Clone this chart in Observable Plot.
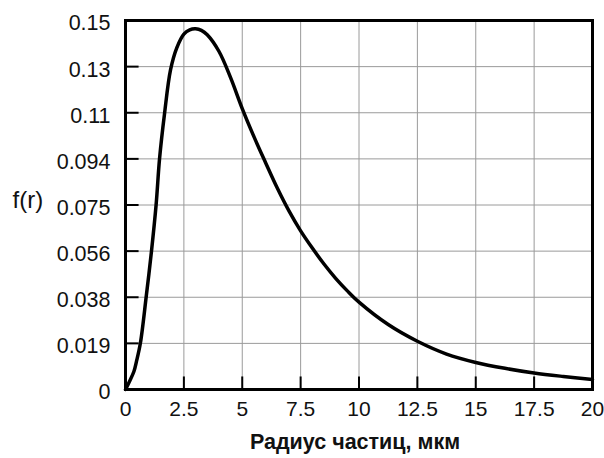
<!DOCTYPE html>
<html>
<head>
<meta charset="utf-8">
<script src="https://cdn.jsdelivr.net/npm/d3@7"></script>
<script src="https://cdn.jsdelivr.net/npm/@observablehq/plot@0.6"></script>
<style>
  html, body { margin: 0; padding: 0; background: #fff; }
  #chart { width: 604px; height: 458px; }
  svg { font-family: "Liberation Sans", Arial, sans-serif; }
</style>
</head>
<body>
<div id="chart"></div>
<script>
// Radius (µm) and distribution density f(r)
const radius = [0, 0.17, 0.36, 0.47, 0.64, 0.89, 1.11, 1.31, 1.46, 1.67, 1.93, 2.2, 2.5, 2.75, 3.0, 3.25, 3.5, 4.0, 4.5, 5.0, 5.5, 6.0, 6.5, 7.0, 7.5, 8.0, 8.5, 9.0, 9.5, 10, 11.25, 12.5, 13.75, 15, 16.25, 17.5, 18.75, 20];
const density = [0, 0.0033, 0.0073, 0.0114, 0.019, 0.038, 0.056, 0.075, 0.094, 0.112, 0.13, 0.139, 0.1445, 0.1462, 0.1466, 0.146, 0.1442, 0.1375, 0.1268, 0.1142, 0.1028, 0.0922, 0.0819, 0.0726, 0.0645, 0.0575, 0.0510, 0.0452, 0.0401, 0.0355, 0.0264, 0.0196, 0.0144, 0.0110, 0.0086, 0.0067, 0.0053, 0.0041];

const xTicks = [0, 2.5, 5, 7.5, 10, 12.5, 15, 17.5, 20];
const xTickLabels = ["0", "2.5", "5", "7.5", "10", "12.5", "15", "17.5", "20"];
const yTicks = [0, 0.01875, 0.0375, 0.05625, 0.075, 0.09375, 0.1125, 0.13125, 0.15];
const yTickLabels = ["0", "0.019", "0.038", "0.056", "0.075", "0.094", "0.11", "0.13", "0.15"];

const yTitle = "f(r)";
const xTitle = "Радиус частиц, мкм";

const data = radius.map((r, i) => ({r, f: density[i]}));
const xLab = new Map(xTicks.map((t, i) => [t, xTickLabels[i]]));
const yLab = new Map(yTicks.map((t, i) => [t, yTickLabels[i]]));

const chart = Plot.plot({
  width: 604,
  height: 458,
  marginLeft: 125,
  marginRight: 12,
  marginTop: 20,
  marginBottom: 69,
  style: {fontFamily: "'Liberation Sans', Arial, sans-serif", fontSize: "21px", color: "#000", background: "#fff"},
  x: {domain: [0, 20]},
  y: {domain: [0, 0.15]},
  marks: [
    Plot.gridX(xTicks, {stroke: "#9a9a9a", strokeOpacity: 1, strokeWidth: 1}),
    Plot.gridY(yTicks, {stroke: "#9a9a9a", strokeOpacity: 1, strokeWidth: 1}),
    // short inward tick marks
    Plot.link(xTicks, {x1: d => d, x2: d => d, y1: () => 0, y2: () => 0.0053, stroke: "#000", strokeWidth: 2}),
    Plot.link(yTicks, {y1: d => d, y2: d => d, x1: () => 0, x2: () => 0.56, stroke: "#000", strokeWidth: 2}),
    Plot.axisX(xTicks, {tickSize: 0, tickPadding: 12, tickFormat: d => xLab.get(d), fontSize: 21, fill: "#111", label: null}),
    Plot.axisY(yTicks, {tickSize: 0, tickPadding: 15, dy: 3, tickFormat: d => yLab.get(d), fontSize: 21.5, fill: "#111", label: null}),
    Plot.frame({stroke: "#000", strokeWidth: 3}),
    Plot.line(data, {x: "r", y: "f", curve: "catmull-rom", stroke: "#000", strokeWidth: 3.5}),
    Plot.text([yTitle], {frameAnchor: "left", dx: -113, dy: -5, textAnchor: "start", fontSize: 24, fill: "#111"}),
    Plot.text([xTitle], {frameAnchor: "bottom", dy: 59, dx: -4, textAnchor: "middle", fontSize: 21.5, fontWeight: "bold", fill: "#111"})
  ]
});
document.getElementById("chart").appendChild(chart);
</script>
</body>
</html>
